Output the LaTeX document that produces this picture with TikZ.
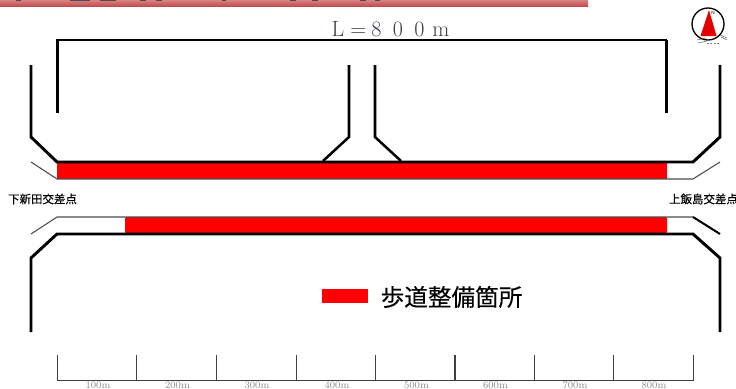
\documentclass[tikz,border=0pt]{standalone}
\usepackage{fontspec}
\newfontfamily\jp[FakeBold=0.25]{Noto Sans CJK JP}
\newfontfamily\lat{Liberation Sans}
\definecolor{signred}{RGB}{255,0,0}
\definecolor{barred}{RGB}{196,72,72}
\definecolor{barpale}{RGB}{214,130,130}
\definecolor{lenink}{RGB}{58,62,78}
\tikzset{
  x=0.75pt,y=-0.75pt,
  road/.style={draw=black,line width=2.2pt,line join=miter},
  dimline/.style={draw=black,line width=2pt,line join=miter},
  thinroad/.style={draw=black!70,line width=0.8pt},
  walk/.style={fill=signred,draw=none},
  scaleline/.style={draw=black!75,line width=0.8pt},
  scalelabel/.style={text=black!45,font=\fontsize{7.5pt}{8pt}\selectfont,inner sep=0pt,anchor=base},
  crosslabel/.style={font=\jp\fontsize{8.6pt}{9pt}\selectfont,text=black,inner sep=0pt}
}
\begin{document}
\begin{tikzpicture}
\useasboundingbox (0,0) rectangle (736,389);
\clip (0,0) rectangle (736,389);
% top bar
\shade[top color=barpale,bottom color=barred] (0,0) rectangle (588,6.5);
\foreach \a/\b in {16/21,70/90,100/116,140/146,156/162,222/226,290/296,312/318,360/366,375/380}
  \fill[black!70] (\a,0) rectangle (\b,1.2);
% red walkways
\fill[walk] (57,163) rectangle (667,179);
\fill[walk,rounded corners=1pt] (125,217) rectangle (667,233.5);
% thin edges
\draw[thinroad] (31,162) -- (57,179) -- (693,179) -- (720,162);
\draw[thinroad] (31,234) -- (57,217) -- (693,217);
\draw[road,line width=1.5pt] (693,217) -- (720,234);
% roads
\draw[road] (31,65) -- (31,137) -- (57,162) -- (693,162) -- (720,137) -- (720,65);
\draw[road] (31,332) -- (31,258) -- (57,234) -- (693,234) -- (720,258) -- (720,332);
\draw[road,line width=1.9pt] (349,65) -- (349,137) -- (323,161);
\draw[road,line width=1.9pt] (375,65) -- (375,137) -- (401,161);
% dimension
\draw[dimline] (57.5,113) -- (57.5,40) -- (666.5,40);
\draw[road] (666.5,40) -- (666.5,113);
\node[inner sep=0pt,text=lenink,font=\fontsize{16.5pt}{18pt}\selectfont] (len) at (390.5,29) {L\hspace{4.5pt}=\hspace{4pt}8\hspace{8.5pt}0\hspace{8.5pt}0\hspace{6pt}m};
% crossing labels
\node[crosslabel] (west) at (42.5,199) {下新田交差点};
\node[crosslabel] (east) at (703.5,199) {上飯島交差点};
% legend
\fill[walk] (322,289) rectangle (368,303);
\node[inner sep=0pt,font=\jp\fontsize{17.7pt}{19pt}\selectfont,text=black] (legend) at (451.5,297) {歩道整備箇所};
% scale
\draw[scaleline] (57.3,380.5) -- (693,380.5);
\foreach \x in {57.3,136.7,216.3,296.3,375.3,455,534.3,613.7,693.3}
  \draw[scaleline] (\x,355) -- (\x,380.5);
\foreach \x/\t in {98/100m,177.5/200m,257/300m,337/400m,416.5/500m,495.5/600m,575/700m,654/800m}
  \node[scalelabel] at (\x,388.4) {\t};
% compass
\draw[black,line width=1pt] (708,24) circle[radius=16];
\fill[red!90!black] (709,10) -- (700.5,36) -- (716.5,36) -- cycle;
\node[inner sep=0pt,font=\lat\fontsize{3.5pt}{4pt}\selectfont] (north) at (713,13) {N};
\draw[black!60,line width=0.4pt] (697,40) -- (706,38) (698,43) -- (707,41) (720,35) -- (727,38) (721,37) -- (727,40);
\draw[black!50,line width=0.6pt,dash pattern=on 1.5pt off 1pt] (707,43.5) -- (720,43.5);
\end{tikzpicture}
\end{document}
